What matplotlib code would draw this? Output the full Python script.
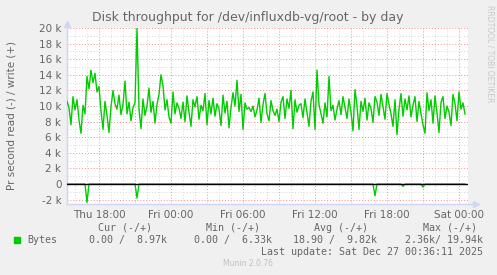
import numpy as np
import pandas as pd
import matplotlib
matplotlib.use("Agg")
import matplotlib.pyplot as plt
import matplotlib.dates as mdates

# write throughput (k bytes/s), one value per 10 minutes from Thu 15:20
write_k = [
    10.6, 9.8, 7.6, 11.2, 9.5, 10.8, 8.2, 6.5, 10.1, 9.0,
    13.8, 12.2, 14.6, 13.0, 14.2, 11.8, 12.5, 9.4, 7.0, 10.6,
    8.8, 6.6, 9.9, 12.0, 10.3, 9.6, 11.4, 8.9, 10.2,
    13.2, 9.0, 10.5, 8.1, 9.8, 10.4, 19.94, 9.6, 7.1, 10.9,
    8.8, 10.0, 12.3, 9.2, 10.6, 7.8, 10.2, 11.5, 14.0, 12.6,
    9.5, 10.8, 8.6, 7.8, 11.8, 9.0, 10.4, 9.7, 8.4,
    10.5, 8.0, 11.3, 9.2, 7.4, 10.8, 9.9, 11.2, 8.3, 10.1,
    9.4, 11.6, 7.6, 10.7, 9.0, 11.0, 8.7, 10.3, 9.6, 7.5,
    11.4, 9.1, 10.6, 7.2, 9.8, 11.7, 10.0, 13.3, 9.3,
    11.5, 7.0, 10.4, 9.6, 9.8, 9.3, 10.0, 8.6, 9.5, 11.0,
    7.9, 10.2, 11.6, 9.0, 8.1, 10.7, 9.4, 8.8, 9.6, 8.0,
    10.5, 11.2, 8.4, 10.9, 9.7, 12.0, 7.1, 10.8, 9.2, 10.1,
    10.3, 8.5, 10.9, 9.1, 7.4, 10.6, 11.8, 7.0, 14.6, 10.2,
    9.0, 7.8, 10.4, 8.6, 13.8, 9.4, 10.1, 8.2, 9.6, 10.7,
    8.9, 11.2, 9.8, 8.4, 10.9, 9.2, 6.8, 12.1, 10.0,
    7.0, 10.6, 9.3, 11.0, 8.2, 10.4, 9.7, 7.9, 11.2, 10.5,
    8.8, 11.5, 9.9, 8.3, 11.6, 10.2, 9.0, 7.4, 10.8, 6.33,
    9.6, 11.6, 8.7, 10.9, 9.5, 11.3, 8.6, 10.1,
    11.2, 8.0, 10.6, 9.0, 7.6, 6.5, 11.7, 9.4, 10.8, 7.8,
    11.3, 9.1, 6.6, 10.5, 11.2, 8.4, 10.0, 9.2, 7.5, 11.5,
    10.3, 8.1, 11.8, 9.6, 10.4, 8.97,
]

# read throughput spikes (sample index, k bytes/s), zero elsewhere
read_idx = [10, 35, 154, 168, 178]
read_k = [-2.36, -1.8, -1.5, -0.3, -0.4]

yticks_k = [-2, 0, 2, 4, 6, 8, 10, 12, 14, 16, 18, 20]

legend_cols = ["Cur (-/+)", "Min (-/+)", "Avg (-/+)", "Max (-/+)"]
legend_vals = ["0.00 /  8.97k", "0.00 /  6.33k", "18.90 /  9.82k", "2.36k/ 19.94k"]

start = pd.Timestamp("2025-12-25 15:20")
times = pd.date_range(start, periods=len(write_k), freq="10min")
write = np.array(write_k) * 1000
read = np.zeros(len(write_k))
read[read_idx] = np.array(read_k) * 1000

BG = "#F0F0F0"
FONT = "#666666"
GREEN = "#00CC00"
AXIS = "#CFD6F8"

fig = plt.figure(figsize=(4.97, 2.75), dpi=100, facecolor=BG)
W, H = 497, 275
ax = fig.add_axes([67 / W, (H - 204) / H, 401 / W, 176 / H])
ax.set_facecolor("white")

ax.plot(times, write, color=GREEN, lw=1.0, zorder=3)
ax.plot(times, read, color=GREEN, lw=1.0, zorder=3)
ax.axhline(0, color="black", lw=1.0, zorder=4)

ax.set_xlim(start, start + pd.Timedelta(minutes=401 * 5))
ax.set_ylim(-2560, 20000)

ax.set_yticks([v * 1000 for v in yticks_k])
ax.set_yticklabels([("%d k" % v) if v != 0 else "0" for v in yticks_k])
ax.set_yticks(np.arange(-2000, 20001, 1000), minor=True)

ax.xaxis.set_major_locator(mdates.HourLocator(byhour=range(0, 24, 3)))
ax.xaxis.set_minor_locator(mdates.HourLocator())


def fmt(x, pos):
    d = mdates.num2date(x)
    if d.hour % 6 == 0:
        return d.strftime("%a %H:%M")
    return ""


ax.xaxis.set_major_formatter(plt.FuncFormatter(fmt))

ax.grid(which="minor", color="#D8D8D8", ls=(0, (1, 2)), lw=0.7, zorder=1)
ax.grid(which="major", color="#F09090", ls=(0, (1, 2)), lw=0.7, zorder=2)
ax.tick_params(which="both", length=0, labelsize=7.5, labelcolor=FONT, pad=4)

for s in ["top", "right"]:
    ax.spines[s].set_visible(False)
ax.spines["left"].set_color(AXIS)
ax.spines["bottom"].set_color(AXIS)

# axis arrows
ax.plot([0, 1.02], [0, 0], transform=ax.transAxes, color=AXIS, lw=1, clip_on=False)
ax.plot([1.02], [0], transform=ax.transAxes, marker=">", color=AXIS, ms=4, clip_on=False)
ax.plot([0, 0], [0, 1.02], transform=ax.transAxes, color=AXIS, lw=1, clip_on=False)
ax.plot([0], [1.02], transform=ax.transAxes, marker="^", color=AXIS, ms=4, clip_on=False)

fig.text(248 / W, 1 - 18 / H, "Disk throughput for /dev/influxdb-vg/root - by day",
         ha="center", va="center", fontsize=9, color=FONT)
fig.text(12 / W, 1 - 115 / H, "Pr second read (-) / write (+)", rotation=90,
         ha="center", va="center", fontsize=7.5, color=FONT)
fig.text(490 / W, 1 - 5 / H, "RRDTOOL / TOBI OETIKER", rotation=270,
         ha="center", va="top", fontsize=5.5, color="#C8C8C8")

mono = dict(family="DejaVu Sans Mono", fontsize=7.2, color=FONT, va="center")
col_x = [125, 233, 341, 450]
for x, t in zip(col_x, legend_cols):
    fig.text(x / W, 1 - 228 / H, t, ha="center", **mono)
val_right = [167, 272, 377, 483]
for x, t in zip(val_right, legend_vals):
    fig.text(x / W, 1 - 240 / H, t, ha="right", **mono)
fig.text(27 / W, 1 - 240 / H, "Bytes", ha="left", **mono)
fig.patches.append(plt.Rectangle((14 / W, 1 - 243 / H), 6 / W, 6 / H,
                                 transform=fig.transFigure, color=GREEN))
fig.text(483 / W, 1 - 252 / H, "Last update: Sat Dec 27 00:36:11 2025", ha="right", **mono)
fig.text(248 / W, 1 - 264 / H, "Munin 2.0.76", ha="center", va="center",
         fontsize=5.5, color="#C0C0C0")

fig.savefig("out.png", dpi=100, facecolor=BG)
